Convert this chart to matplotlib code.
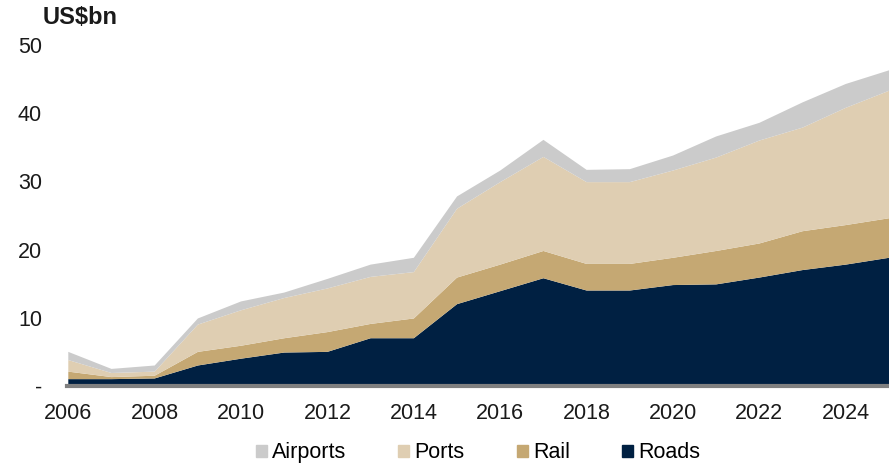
import numpy as np
import matplotlib.pyplot as plt
from matplotlib.patches import Patch

plt.rcParams['font.family'] = ['Liberation Sans', 'DejaVu Sans']

years = list(range(2006, 2026))
roads    = [1.0, 1.0, 1.1, 3.0, 4.0, 4.9, 5.0, 7.0, 7.0, 12.0, 13.9, 15.8, 14.0, 14.0, 14.8, 14.9, 15.9, 17.0, 17.8, 18.8]
rail     = [1.1, 0.3, 0.4, 2.0, 1.9, 2.1, 2.9, 2.1, 2.9, 3.9, 3.9, 4.0, 3.9, 3.9, 4.0, 4.9, 5.0, 5.7, 5.8, 5.8]
ports    = [1.7, 0.6, 0.6, 4.0, 5.2, 5.9, 6.4, 6.9, 6.8, 10.1, 12.1, 13.8, 12.0, 12.0, 12.8, 13.7, 15.1, 15.2, 17.2, 18.7]
airports = [1.2, 0.6, 0.9, 0.9, 1.3, 0.8, 1.4, 1.8, 2.1, 1.8, 1.7, 2.5, 1.8, 1.9, 2.2, 3.1, 2.6, 3.7, 3.5, 3.0]

names = ['Roads', 'Rail', 'Ports', 'Airports']
colors = ['#002042', '#c5a873', '#dfceb2', '#cbcbcb']
yticks = [0, 10, 20, 30, 40, 50]
ytick_labels = ['-', '10', '20', '30', '40', '50']
xticks = list(range(2006, 2025, 2))

fig = plt.figure(figsize=(8.89, 4.65), dpi=100)
ax = fig.add_axes([67 / 889, 0.170, 1 - 67 / 889, 0.733])

ax.stackplot(years, roads, rail, ports, airports, colors=colors, linewidth=0)

ax.set_xlim(2005.97, 2025)
ax.set_ylim(0, 50)
ax.set_yticks(yticks)
ax.set_yticklabels(ytick_labels)
ax.set_xticks(xticks)
ax.tick_params(length=0, labelsize=15.5, labelcolor='#1a1a1a')
ax.tick_params(axis='y', pad=18)
ax.tick_params(axis='x', pad=12)
for s in ['top', 'right', 'left']:
    ax.spines[s].set_visible(False)
ax.spines['bottom'].set_color('#808080')
ax.spines['bottom'].set_linewidth(3)

fig.text(43 / 889, 1 - 17 / 465, 'US$bn', fontsize=17, fontweight='bold',
         va='center', ha='left', color='#1a1a1a')

handles = [Patch(color=c, label=n) for n, c in zip(names, colors)][::-1]
fig.legend(handles=handles, loc='center', bbox_to_anchor=(478 / 889, 0.026),
           ncol=4, frameon=False, fontsize=15.5, handlelength=0.52,
           handleheight=0.52, handletextpad=0.25, columnspacing=2.4)

plt.savefig('out.png', dpi=100)
